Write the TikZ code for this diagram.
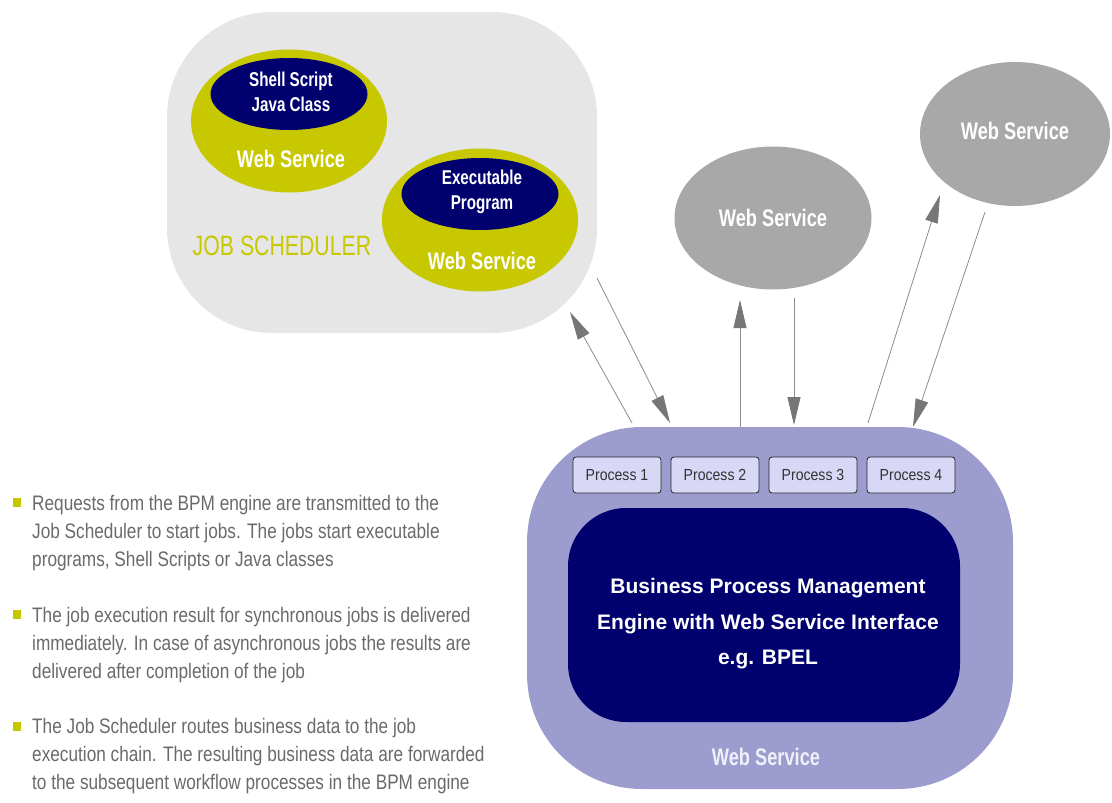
\documentclass[tikz,border=0pt]{standalone}
\usepackage{fontspec}
\setmainfont{Liberation Sans}
\newfontfamily\condfont[FakeStretch=0.76]{Liberation Sans}
\newfontfamily\bulletfont[FakeStretch=0.82]{Liberation Sans}
\newfontfamily\procfont[FakeStretch=0.88]{Liberation Sans}
\usetikzlibrary{arrows.meta,shapes.geometric}

\definecolor{schedgray}{HTML}{E6E6E6}
\definecolor{olive}{HTML}{C8C800}
\definecolor{navyblue}{HTML}{00006E}
\definecolor{lavender}{HTML}{9C9CCE}
\definecolor{lavlight}{HTML}{D8D8F6}
\definecolor{wsgray}{HTML}{A8A8A8}
\definecolor{linegray}{HTML}{8C8C8C}
\definecolor{headgray}{HTML}{767676}
\definecolor{bodygray}{HTML}{6A6A6A}
\definecolor{paletext}{HTML}{F0F0FA}

\begin{document}
\begin{tikzpicture}[x=1pt,y=-1pt,
  outerws/.style={ellipse, fill=olive, minimum width=196, minimum height=143, inner sep=0},
  innerws/.style={ellipse, fill=navyblue, minimum width=157, minimum height=72, inner sep=0},
  grayws/.style={ellipse, fill=wsgray, inner sep=0, text=white,
    font=\condfont\bfseries\fontsize{24}{28}\selectfont},
  wslabel/.style={text=white, inner sep=0, font=\condfont\bfseries\fontsize{24}{28}\selectfont},
  innerlabel/.style={text=white, inner sep=0, align=center,
    font=\condfont\bfseries\fontsize{20}{25}\selectfont},
  procbox/.style={draw=black!85, line width=0.8pt, fill=lavlight, rounded corners=3,
    minimum width=88, minimum height=36, inner sep=0, text=black!80,
    font=\procfont\fontsize{16}{18}\selectfont},
  conn/.style={draw=linegray, line width=0.8pt,
    -{Triangle[length=28pt,width=13pt,color=headgray]}},
  bulletline/.style={anchor=base west, inner sep=0, text=bodygray,
    font=\bulletfont\fontsize{21}{28}\selectfont},
  bulletmark/.style={fill=olive, minimum width=8, minimum height=9, inner sep=0}
]
\useasboundingbox (0,0) rectangle (1112,803);

% ---- job scheduler area ----
\node[fill=schedgray, rounded corners=105, minimum width=430, minimum height=321, inner sep=0]
  (sched) at (382,172.5) {};
\node[text=olive, inner sep=0, font=\condfont\fontsize{28}{30}\selectfont] (schedlabel) at (282,246) {JOB SCHEDULER};

\node[outerws] (ws1) at (289,121) {};
\node[innerws] (shell) at (289,94) {};
\node[innerlabel] (shelltxt) at (291,92) {Shell Script\\Java Class};
\node[wslabel] (ws1txt) at (291,159) {Web Service};

\node[outerws] (ws2) at (480,220) {};
\node[innerws] (exe) at (480,194) {};
\node[innerlabel] (exetxt) at (482,192) {Executable\\Program};
\node[wslabel] (ws2txt) at (482,261) {Web Service};

% ---- external web services ----
\node[grayws, minimum width=197, minimum height=143] (ws3) at (773,218) {Web Service};
\node[grayws, minimum width=190, minimum height=144, text depth=6pt] (ws4) at (1015,134) {Web Service};

% ---- BPM engine ----
\node[fill=lavender, rounded corners=115, minimum width=486, minimum height=362, inner sep=0]
  (bpmouter) at (770,608) {};
\node[fill=navyblue, rounded corners=58, minimum width=392, minimum height=214, inner sep=0]
  (engine) at (764,615) {};
\node[text=white, align=center, inner sep=0, font=\bfseries\fontsize{21}{35.5}\selectfont]
  (enginetxt) at (768,624) {Business Process Management\\Engine with Web Service Interface\\e.g. BPEL};
\node[text=paletext, inner sep=0, font=\condfont\bfseries\fontsize{24}{28}\selectfont]
  (bpmlabel) at (766,757) {Web Service};

\node[procbox] (p1) at (617,475) {Process 1};
\node[procbox] (p2) at (715,475) {Process 2};
\node[procbox] (p3) at (813,475) {Process 3};
\node[procbox] (p4) at (911,475) {Process 4};

% ---- message flows ----
\coordinate (a1s) at (632,423);  \coordinate (a1e) at (570,312);
\coordinate (a2s) at (597,278);  \coordinate (a2e) at (670,423);
\coordinate (a3s) at (740,427);  \coordinate (a3e) at (740,300);
\coordinate (a4s) at (794,298);  \coordinate (a4e) at (794,425);
\coordinate (a5s) at (868,423);  \coordinate (a5e) at (940,195);
\coordinate (a6s) at (985,212);  \coordinate (a6e) at (913,427);
\draw[conn] (a1s) -- (a1e);
\draw[conn] (a2s) -- (a2e);
\draw[conn] (a3s) -- (a3e);
\draw[conn] (a4s) -- (a4e);
\draw[conn] (a5s) -- (a5e);
\draw[conn] (a6s) -- (a6e);

% ---- notes ----
\node[bulletmark] (b1) at (17,502) {};
\node[bulletline] (b1l1) at (32,510) {Requests from the BPM engine are transmitted to the};
\node[bulletline] (b1l2) at (32,538) {Job Scheduler to start jobs. The jobs start executable};
\node[bulletline] (b1l3) at (32,566) {programs, Shell Scripts or Java classes};

\node[bulletmark] (b2) at (17,614) {};
\node[bulletline] (b2l1) at (32,622) {The job execution result for synchronous jobs is delivered};
\node[bulletline] (b2l2) at (32,650) {immediately. In case of asynchronous jobs the results are};
\node[bulletline] (b2l3) at (32,678) {delivered after completion of the job};

\node[bulletmark] (b3) at (17,726) {};
\node[bulletline] (b3l1) at (32,733) {The Job Scheduler routes business data to the job};
\node[bulletline] (b3l2) at (32,761) {execution chain. The resulting business data are forwarded};
\node[bulletline] (b3l3) at (32,789) {to the subsequent workflow processes in the BPM engine};
\end{tikzpicture}
\end{document}
